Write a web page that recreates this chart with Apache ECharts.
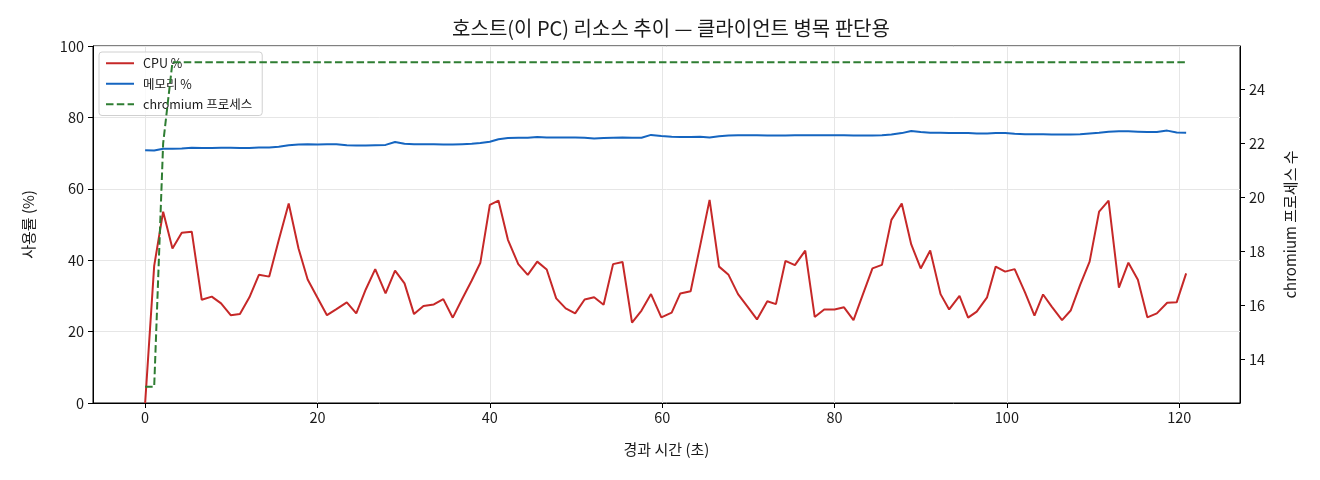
<!DOCTYPE html>
<html>
<head>
<meta charset="utf-8">
<script src="https://cdn.jsdelivr.net/npm/echarts@6/dist/echarts.min.js"></script>
<style>
html,body{margin:0;padding:0;background:#fff;}
#c{width:1320px;height:480px;}
</style>
</head>
<body>
<div id="c"></div>
<script>
// elapsed time (s)
var times = [0,1.05,2.09,3.17,4.25,5.41,6.57,7.73,8.81,9.93,
  11.0,12.1,13.2,14.4,15.5,16.66,17.8,18.86,20.0,21.1,
  22.2,23.4,24.5,25.6,26.7,27.9,29.0,30.1,31.2,32.3,
  33.5,34.6,35.7,36.8,37.9,38.9,40.0,41.0,42.1,43.3,
  44.4,45.5,46.6,47.7,48.8,49.9,51.0,52.1,53.2,54.3,
  55.4,56.5,57.6,58.7,59.9,61.1,62.1,63.3,64.4,65.5,
  66.6,67.7,68.8,69.9,71.0,72.2,73.2,74.3,75.4,76.6,
  77.7,78.8,80.0,81.1,82.2,83.3,84.4,85.5,86.6,87.8,
  88.9,90.0,91.1,92.3,93.3,94.5,95.5,96.5,97.7,98.7,
  99.8,100.9,102.1,103.2,104.2,105.2,106.4,107.4,108.5,109.6,
  110.7,111.8,113.0,114.1,115.2,116.3,117.4,118.6,119.7,120.8];
// CPU %
var cpu = [0,38.4,53.6,43.3,47.7,48.0,28.9,29.8,27.9,24.6,
  24.9,29.6,35.9,35.4,45.6,55.9,43.3,34.6,29.5,24.6,
  26.3,28.2,25.1,31.8,37.5,30.7,37.1,33.5,24.9,27.2,
  27.6,29.1,23.9,29.2,34.3,39.3,55.5,56.7,45.7,38.9,
  35.9,39.6,37.4,29.3,26.5,25.1,29.0,29.6,27.5,38.9,
  39.5,22.5,25.9,30.5,24.0,25.3,30.7,31.3,44.0,56.9,
  38.2,35.9,30.5,27.0,23.4,28.5,27.7,39.8,38.6,42.7,
  24.1,26.2,26.2,26.8,23.2,30.5,37.7,38.7,51.3,55.9,
  44.4,37.7,42.7,30.5,26.2,30.0,23.9,25.6,29.6,38.2,
  36.8,37.5,31.0,24.5,30.4,27.0,23.2,25.9,33.1,39.6,
  53.6,56.7,32.3,39.3,34.5,24.0,25.1,28.1,28.2,36.3];
// memory %
var mem = [70.8,70.7,71.2,71.2,71.3,71.5,71.4,71.4,71.5,71.5,
  71.4,71.4,71.6,71.6,71.8,72.2,72.4,72.5,72.4,72.5,
  72.5,72.2,72.1,72.1,72.2,72.3,73.1,72.6,72.5,72.5,
  72.5,72.4,72.4,72.5,72.6,72.8,73.2,73.9,74.2,74.3,
  74.3,74.5,74.4,74.4,74.4,74.4,74.3,74.1,74.2,74.3,
  74.4,74.3,74.3,75.1,74.8,74.6,74.5,74.5,74.6,74.4,
  74.7,74.9,75.0,75.0,75.0,74.9,74.9,74.9,75.0,75.0,
  75.0,75.0,75.0,75.0,74.9,74.9,74.9,75.0,75.2,75.6,
  76.2,75.9,75.7,75.7,75.6,75.6,75.6,75.5,75.5,75.6,
  75.6,75.4,75.3,75.3,75.3,75.2,75.2,75.2,75.3,75.5,
  75.7,76.0,76.1,76.1,76.0,75.9,75.9,76.3,75.8,75.7];
// chromium process count
var chromium = [13,13,22,25,25,25,25,25,25,25,
  25,25,25,25,25,25,25,25,25,25,
  25,25,25,25,25,25,25,25,25,25,
  25,25,25,25,25,25,25,25,25,25,
  25,25,25,25,25,25,25,25,25,25,
  25,25,25,25,25,25,25,25,25,25,
  25,25,25,25,25,25,25,25,25,25,
  25,25,25,25,25,25,25,25,25,25,
  25,25,25,25,25,25,25,25,25,25,
  25,25,25,25,25,25,25,25,25,25,
  25,25,25,25,25,25,25,25,25,25];
var xTicks = [0,20,40,60,80,100,120];
var rightTicks = [14,16,18,20,22,24];

var title = '호스트(이 PC) 리소스 추이 — 클라이언트 병목 판단용';
var names = ['CPU %','메모리 %','chromium 프로세스'];

function pairs(v){ return times.map(function(t,i){ return [t, v[i]]; }); }

var FONT = '"Noto Sans CJK KR", "Noto Sans", sans-serif';
var TXT = '#1a1a1a';
var chart = echarts.init(document.getElementById('c'), null, {renderer:'canvas'});
chart.setOption({
  animation:false,
  backgroundColor:'#fff',
  textStyle:{fontFamily:FONT},
  title:{text:title, left:666, textAlign:'center', top:13,
    textStyle:{fontFamily:FONT, fontSize:20, fontWeight:'normal', color:TXT}},
  grid:{left:93, right:80, top:46, bottom:77, show:true, borderColor:'#000', borderWidth:1, backgroundColor:'transparent'},
  legend:{
    data:names, orient:'vertical', left:99, top:52,
    itemWidth:28, itemHeight:10, itemGap:8,
    padding:[5,10,5,6],
    backgroundColor:'rgba(255,255,255,0.8)', borderColor:'#d0d0d0', borderWidth:1, borderRadius:3,
    itemStyle:{opacity:0},
    textStyle:{fontFamily:FONT, fontSize:12.5, color:TXT, padding:[0,0,0,4]}
  },
  xAxis:{type:'value', min:-6.05, max:127.05,
    name:'경과 시간 (초)', nameLocation:'middle', nameGap:39,
    nameTextStyle:{fontFamily:FONT, fontSize:15, color:TXT},
    axisLine:{show:true, onZero:false, lineStyle:{color:'#000', width:1}},
    axisTick:{show:true, length:5, customValues:xTicks, lineStyle:{color:'#000'}},
    axisLabel:{customValues:xTicks, fontFamily:FONT, fontSize:14.5, color:TXT, margin:7},
    splitLine:{show:true, lineStyle:{color:'#e6e6e6', width:1}}
  },
  yAxis:[
    {type:'value', min:0, max:100, interval:20, position:'left',
     name:'사용률 (%)', nameLocation:'middle', nameGap:57,
     nameTextStyle:{fontFamily:FONT, fontSize:15, color:TXT},
     axisLine:{show:true, onZero:false, lineStyle:{color:'#000', width:1}},
     axisTick:{show:true, length:5, lineStyle:{color:'#000'}},
     axisLabel:{fontFamily:FONT, fontSize:14.5, color:TXT, margin:9},
     splitLine:{show:true, lineStyle:{color:'#e6e6e6', width:1}}
    },
    {type:'value', min:12.4, max:25.6, position:'right',
     name:'chromium 프로세스 수', nameLocation:'middle', nameGap:43,
     nameTextStyle:{fontFamily:FONT, fontSize:15, color:TXT},
     axisLine:{show:true, onZero:false, lineStyle:{color:'#000', width:1}},
     axisTick:{show:true, length:5, customValues:rightTicks, lineStyle:{color:'#000'}},
     axisLabel:{customValues:rightTicks, fontFamily:FONT, fontSize:14.5, color:TXT, margin:9},
     splitLine:{show:false}
    }
  ],
  series:[
    {name:names[0], type:'line', yAxisIndex:0, data:pairs(cpu), symbol:'none',
     lineStyle:{color:'#c62828', width:2}, itemStyle:{color:'#c62828'}, z:2},
    {name:names[1], type:'line', yAxisIndex:0, data:pairs(mem), symbol:'none',
     lineStyle:{color:'#1565c0', width:2}, itemStyle:{color:'#1565c0'}, z:3},
    {name:names[2], type:'line', yAxisIndex:1, data:pairs(chromium), symbol:'none',
     lineStyle:{color:'#2e7d32', width:2, type:[7.5,3.3]}, itemStyle:{color:'#2e7d32'}, z:4}
  ]
});
</script>
</body>
</html>
